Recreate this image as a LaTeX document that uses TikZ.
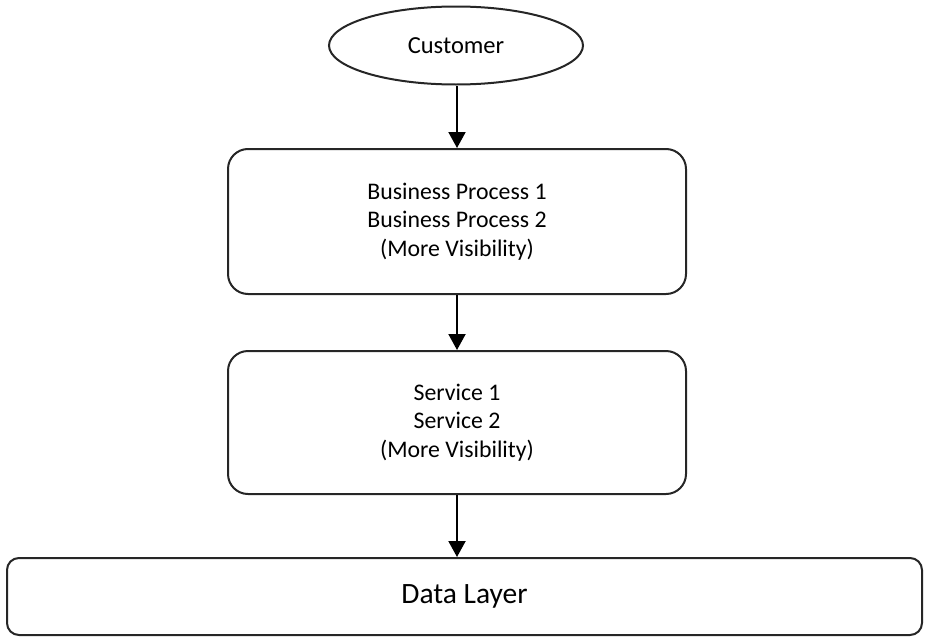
\documentclass[tikz,border=0pt]{standalone}
\usepackage{fontspec}
\setmainfont{Carlito}
\usetikzlibrary{shapes.geometric,arrows.meta}
\begin{document}
\begin{tikzpicture}[x=1pt,y=-1pt,
  outline/.style={draw=black!85,line width=2pt},
  tier/.style={outline,rounded corners=20pt,minimum width=458pt,minimum height=145pt,
    inner sep=0pt,align=center,font=\fontsize{23.8}{28.5}\selectfont},
  flow/.style={line width=2pt,-{Triangle[width=17pt,length=16pt]}}]
  \useasboundingbox (0,0) rectangle (925,637);
  % actor
  \node[outline,ellipse,minimum width=254pt,minimum height=78pt,inner sep=0pt,
    font=\fontsize{24.5}{28}\selectfont] (cust) at (456,45.5) {Customer};
  % layered tiers
  \node[tier] (bp) at (457,221.5) {Business Process 1\\Business Process 2\\(More Visibility)};
  \node[tier,minimum height=143pt] (svc) at (457,422.5) {Service 1\\Service 2\\(More Visibility)};
  \node[outline,rounded corners=12pt,minimum width=915pt,minimum height=77pt,inner sep=0pt,
    font=\fontsize{29.5}{32}\selectfont] (data) at (464.5,596.5) {Data Layer};
  % connectors
  \draw[flow] (cust.south -| bp.north) -- (bp.north);
  \draw[flow] (bp.south) -- (svc.north);
  \draw[flow] (svc.south) -- (svc.south |- data.north);
\end{tikzpicture}
\end{document}
